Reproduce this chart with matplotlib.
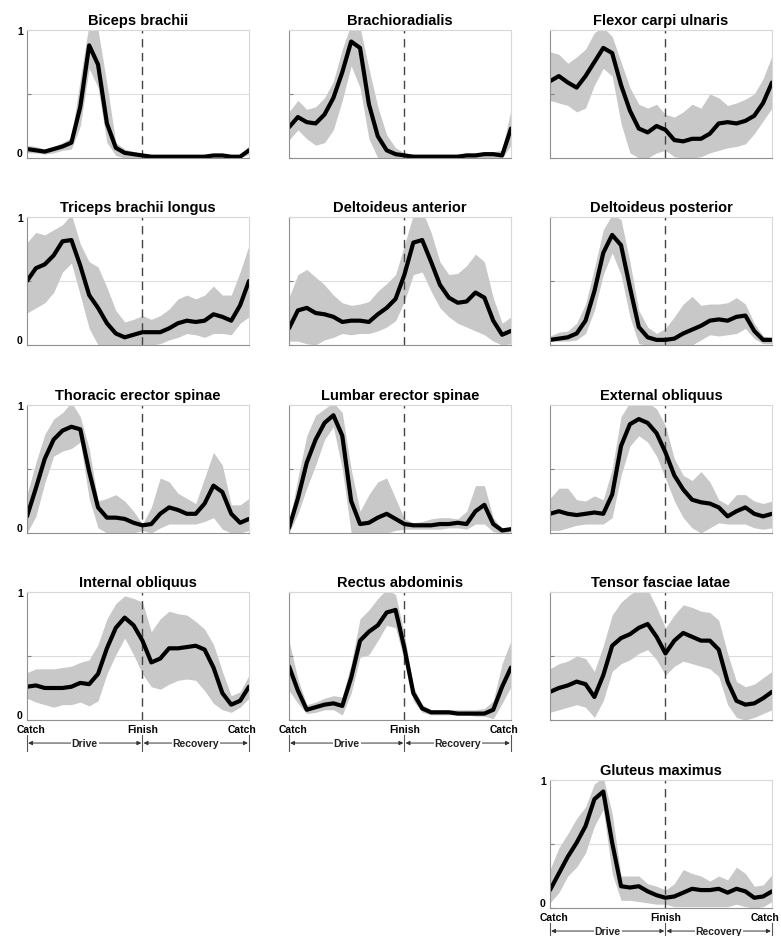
import numpy as np
import matplotlib.pyplot as plt

plt.rcParams['font.family'] = ['Liberation Sans', 'DejaVu Sans']

# % of stroke cycle, catch -> finish (52%) -> catch
pct = np.arange(0, 101, 4)
finish = 52

biceps_mean = [0.07, 0.06, 0.05, 0.07, 0.09, 0.12, 0.40, 0.88, 0.73, 0.27, 0.08, 0.04, 0.03, 0.02, 0.01, 0.01, 0.01, 0.01, 0.01, 0.01, 0.01, 0.02, 0.02, 0.01, 0.01, 0.06]
biceps_lo = [0.04, 0.04, 0.03, 0.04, 0.06, 0.07, 0.25, 0.70, 0.55, 0.12, 0.02, 0.0, 0.0, 0.0, 0.0, 0.0, 0.0, 0.0, 0.0, 0.0, 0.0, 0.0, 0.0, 0.0, 0.0, 0.03]
biceps_hi = [0.10, 0.09, 0.07, 0.09, 0.12, 0.16, 0.62, 1.05, 1.00, 0.58, 0.12, 0.07, 0.05, 0.03, 0.02, 0.02, 0.02, 0.02, 0.02, 0.02, 0.03, 0.03, 0.03, 0.02, 0.02, 0.10]

brachio_mean = [0.24, 0.32, 0.28, 0.27, 0.34, 0.47, 0.67, 0.91, 0.86, 0.42, 0.17, 0.06, 0.03, 0.02, 0.01, 0.01, 0.01, 0.01, 0.01, 0.01, 0.02, 0.02, 0.03, 0.03, 0.02, 0.23]
brachio_lo = [0.14, 0.22, 0.15, 0.10, 0.12, 0.22, 0.45, 0.72, 0.55, 0.15, 0.0, 0.0, 0.0, 0.0, 0.0, 0.0, 0.0, 0.0, 0.0, 0.0, 0.0, 0.0, 0.0, 0.0, 0.0, 0.10]
brachio_hi = [0.36, 0.45, 0.38, 0.40, 0.47, 0.60, 0.85, 1.05, 1.02, 0.70, 0.40, 0.18, 0.08, 0.04, 0.03, 0.03, 0.03, 0.03, 0.03, 0.03, 0.04, 0.04, 0.05, 0.05, 0.06, 0.38]

flexor_mean = [0.60, 0.64, 0.59, 0.55, 0.64, 0.75, 0.86, 0.82, 0.57, 0.37, 0.23, 0.20, 0.25, 0.22, 0.14, 0.13, 0.15, 0.15, 0.19, 0.27, 0.28, 0.27, 0.29, 0.33, 0.43, 0.59]
flexor_lo = [0.45, 0.43, 0.41, 0.36, 0.39, 0.57, 0.70, 0.64, 0.27, 0.04, 0.0, 0.0, 0.04, 0.06, 0.01, 0.0, 0.0, 0.01, 0.04, 0.06, 0.08, 0.09, 0.11, 0.19, 0.29, 0.39]
flexor_hi = [0.83, 0.81, 0.74, 0.79, 0.85, 0.98, 1.02, 0.95, 0.75, 0.55, 0.42, 0.39, 0.42, 0.34, 0.32, 0.36, 0.42, 0.39, 0.50, 0.47, 0.41, 0.43, 0.46, 0.50, 0.62, 0.80]

triceps_mean = [0.50, 0.60, 0.63, 0.70, 0.81, 0.82, 0.62, 0.39, 0.29, 0.17, 0.09, 0.06, 0.08, 0.10, 0.10, 0.10, 0.13, 0.17, 0.19, 0.18, 0.19, 0.24, 0.22, 0.19, 0.31, 0.50]
triceps_lo = [0.25, 0.29, 0.33, 0.41, 0.57, 0.64, 0.39, 0.13, 0.0, 0.0, 0.0, 0.0, 0.0, 0.0, 0.0, 0.01, 0.04, 0.06, 0.09, 0.08, 0.06, 0.09, 0.09, 0.08, 0.17, 0.22]
triceps_hi = [0.80, 0.88, 0.86, 0.90, 0.94, 1.02, 0.79, 0.65, 0.61, 0.45, 0.27, 0.18, 0.20, 0.23, 0.20, 0.23, 0.28, 0.36, 0.39, 0.36, 0.39, 0.46, 0.39, 0.39, 0.57, 0.78]

delt_ant_mean = [0.13, 0.27, 0.29, 0.25, 0.24, 0.22, 0.18, 0.19, 0.19, 0.18, 0.24, 0.29, 0.36, 0.55, 0.80, 0.82, 0.65, 0.47, 0.37, 0.33, 0.34, 0.41, 0.37, 0.19, 0.08, 0.11]
delt_ant_lo = [0.03, 0.03, 0.01, 0.0, 0.04, 0.06, 0.09, 0.08, 0.09, 0.09, 0.11, 0.14, 0.19, 0.34, 0.55, 0.57, 0.42, 0.29, 0.22, 0.17, 0.14, 0.11, 0.08, 0.03, 0.0, 0.01]
delt_ant_hi = [0.37, 0.55, 0.59, 0.53, 0.47, 0.39, 0.33, 0.31, 0.32, 0.34, 0.42, 0.48, 0.55, 0.78, 1.02, 1.05, 0.88, 0.65, 0.55, 0.56, 0.62, 0.71, 0.65, 0.37, 0.17, 0.22]

delt_post_mean = [0.04, 0.05, 0.06, 0.09, 0.19, 0.42, 0.72, 0.86, 0.78, 0.45, 0.14, 0.06, 0.04, 0.04, 0.05, 0.09, 0.12, 0.15, 0.19, 0.20, 0.19, 0.22, 0.23, 0.11, 0.04, 0.04]
delt_post_lo = [0.03, 0.03, 0.03, 0.04, 0.09, 0.27, 0.55, 0.72, 0.55, 0.22, 0.01, 0.0, 0.0, 0.0, 0.0, 0.0, 0.0, 0.04, 0.08, 0.07, 0.08, 0.09, 0.13, 0.05, 0.01, 0.01]
delt_post_hi = [0.07, 0.10, 0.11, 0.17, 0.32, 0.60, 0.90, 1.02, 0.98, 0.65, 0.27, 0.14, 0.09, 0.13, 0.22, 0.32, 0.38, 0.31, 0.32, 0.32, 0.33, 0.37, 0.32, 0.17, 0.07, 0.06]

thor_mean = [0.13, 0.35, 0.58, 0.73, 0.80, 0.83, 0.81, 0.48, 0.20, 0.12, 0.12, 0.11, 0.08, 0.06, 0.07, 0.15, 0.20, 0.18, 0.15, 0.15, 0.23, 0.37, 0.32, 0.15, 0.08, 0.11]
thor_lo = [0.0, 0.13, 0.39, 0.60, 0.64, 0.66, 0.71, 0.27, 0.04, 0.0, 0.0, 0.0, 0.0, 0.02, 0.0, 0.04, 0.07, 0.07, 0.07, 0.07, 0.09, 0.12, 0.03, 0.0, 0.0, 0.02]
thor_hi = [0.30, 0.55, 0.77, 0.89, 0.94, 1.02, 0.91, 0.66, 0.25, 0.27, 0.30, 0.25, 0.17, 0.07, 0.20, 0.43, 0.40, 0.31, 0.27, 0.23, 0.43, 0.63, 0.53, 0.22, 0.22, 0.27]

lumb_mean = [0.04, 0.27, 0.55, 0.73, 0.86, 0.92, 0.76, 0.25, 0.07, 0.08, 0.12, 0.15, 0.11, 0.07, 0.06, 0.06, 0.06, 0.07, 0.07, 0.08, 0.07, 0.17, 0.22, 0.07, 0.02, 0.03]
lumb_lo = [0.0, 0.15, 0.35, 0.53, 0.73, 0.83, 0.50, 0.0, 0.0, 0.0, 0.0, 0.0, 0.02, 0.03, 0.03, 0.03, 0.03, 0.03, 0.04, 0.04, 0.03, 0.07, 0.07, 0.01, 0.0, 0.01]
lumb_hi = [0.07, 0.43, 0.76, 0.92, 0.97, 1.02, 0.94, 0.50, 0.17, 0.30, 0.40, 0.43, 0.27, 0.11, 0.08, 0.09, 0.11, 0.12, 0.12, 0.11, 0.17, 0.37, 0.37, 0.12, 0.03, 0.04]

ext_obl_mean = [0.15, 0.17, 0.15, 0.14, 0.15, 0.16, 0.15, 0.30, 0.68, 0.85, 0.89, 0.86, 0.78, 0.63, 0.45, 0.34, 0.26, 0.24, 0.23, 0.20, 0.13, 0.17, 0.20, 0.15, 0.13, 0.15]
ext_obl_lo = [0.02, 0.02, 0.04, 0.06, 0.07, 0.07, 0.07, 0.12, 0.45, 0.68, 0.76, 0.71, 0.60, 0.43, 0.25, 0.12, 0.04, 0.0, 0.04, 0.08, 0.07, 0.07, 0.07, 0.04, 0.03, 0.04]
ext_obl_hi = [0.27, 0.35, 0.35, 0.26, 0.25, 0.29, 0.26, 0.50, 0.91, 1.02, 1.02, 1.02, 0.97, 0.84, 0.58, 0.45, 0.41, 0.48, 0.40, 0.26, 0.22, 0.30, 0.30, 0.25, 0.23, 0.25]

int_obl_mean = [0.26, 0.27, 0.25, 0.25, 0.25, 0.26, 0.29, 0.28, 0.36, 0.56, 0.72, 0.80, 0.74, 0.62, 0.45, 0.48, 0.56, 0.56, 0.57, 0.58, 0.55, 0.41, 0.21, 0.12, 0.15, 0.26]
int_obl_lo = [0.17, 0.14, 0.12, 0.10, 0.12, 0.12, 0.14, 0.11, 0.15, 0.36, 0.51, 0.64, 0.51, 0.36, 0.26, 0.24, 0.28, 0.31, 0.32, 0.31, 0.23, 0.13, 0.08, 0.06, 0.10, 0.17]
int_obl_hi = [0.37, 0.40, 0.40, 0.40, 0.41, 0.42, 0.45, 0.47, 0.59, 0.79, 0.91, 0.97, 0.95, 0.92, 0.69, 0.79, 0.85, 0.83, 0.82, 0.77, 0.71, 0.59, 0.38, 0.19, 0.22, 0.35]

rect_mean = [0.42, 0.23, 0.08, 0.10, 0.12, 0.13, 0.11, 0.33, 0.62, 0.69, 0.74, 0.84, 0.86, 0.56, 0.21, 0.09, 0.06, 0.06, 0.06, 0.05, 0.05, 0.05, 0.05, 0.08, 0.26, 0.41]
rect_lo = [0.23, 0.13, 0.05, 0.06, 0.08, 0.08, 0.04, 0.21, 0.49, 0.51, 0.62, 0.74, 0.72, 0.46, 0.15, 0.06, 0.04, 0.04, 0.04, 0.04, 0.04, 0.03, 0.03, 0.01, 0.13, 0.26]
rect_hi = [0.62, 0.32, 0.12, 0.14, 0.17, 0.19, 0.18, 0.44, 0.79, 0.86, 0.95, 1.02, 0.98, 0.67, 0.26, 0.12, 0.08, 0.08, 0.08, 0.08, 0.08, 0.08, 0.09, 0.15, 0.44, 0.62]

tfl_mean = [0.22, 0.25, 0.27, 0.30, 0.28, 0.18, 0.35, 0.58, 0.64, 0.67, 0.72, 0.75, 0.65, 0.52, 0.62, 0.68, 0.65, 0.62, 0.62, 0.55, 0.30, 0.15, 0.12, 0.13, 0.17, 0.22]
tfl_lo = [0.06, 0.08, 0.10, 0.12, 0.10, 0.02, 0.15, 0.38, 0.44, 0.47, 0.52, 0.55, 0.47, 0.35, 0.42, 0.46, 0.44, 0.42, 0.40, 0.34, 0.12, 0.02, 0.0, 0.02, 0.05, 0.08]
tfl_hi = [0.40, 0.44, 0.46, 0.50, 0.48, 0.38, 0.58, 0.82, 0.92, 0.98, 1.02, 1.02, 0.88, 0.72, 0.82, 0.90, 0.88, 0.85, 0.84, 0.78, 0.52, 0.30, 0.26, 0.28, 0.33, 0.38]

glut_mean = [0.14, 0.27, 0.40, 0.51, 0.64, 0.85, 0.91, 0.51, 0.17, 0.16, 0.17, 0.13, 0.10, 0.08, 0.09, 0.12, 0.15, 0.14, 0.14, 0.15, 0.12, 0.15, 0.13, 0.08, 0.09, 0.13]
glut_lo = [0.04, 0.12, 0.25, 0.32, 0.43, 0.64, 0.77, 0.27, 0.06, 0.06, 0.05, 0.04, 0.03, 0.03, 0.01, 0.01, 0.01, 0.01, 0.01, 0.01, 0.01, 0.03, 0.01, 0.0, 0.01, 0.05]
glut_hi = [0.30, 0.47, 0.58, 0.70, 0.79, 0.97, 1.02, 0.74, 0.25, 0.25, 0.25, 0.19, 0.17, 0.14, 0.19, 0.30, 0.27, 0.25, 0.21, 0.25, 0.22, 0.32, 0.27, 0.17, 0.18, 0.26]

phase_labels = ['Catch', 'Finish', 'Catch']

# title, mean, lower, upper, row, col
panels = [
    ('Biceps brachii', biceps_mean, biceps_lo, biceps_hi, 0, 0),
    ('Brachioradialis', brachio_mean, brachio_lo, brachio_hi, 0, 1),
    ('Flexor carpi ulnaris', flexor_mean, flexor_lo, flexor_hi, 0, 2),
    ('Triceps brachii longus', triceps_mean, triceps_lo, triceps_hi, 1, 0),
    ('Deltoideus anterior', delt_ant_mean, delt_ant_lo, delt_ant_hi, 1, 1),
    ('Deltoideus posterior', delt_post_mean, delt_post_lo, delt_post_hi, 1, 2),
    ('Thoracic erector spinae', thor_mean, thor_lo, thor_hi, 2, 0),
    ('Lumbar erector spinae', lumb_mean, lumb_lo, lumb_hi, 2, 1),
    ('External obliquus', ext_obl_mean, ext_obl_lo, ext_obl_hi, 2, 2),
    ('Internal obliquus', int_obl_mean, int_obl_lo, int_obl_hi, 3, 0),
    ('Rectus abdominis', rect_mean, rect_lo, rect_hi, 3, 1),
    ('Tensor fasciae latae', tfl_mean, tfl_lo, tfl_hi, 3, 2),
    ('Gluteus maximus', glut_mean, glut_lo, glut_hi, 4, 2),
]
with_xlabels = ['Internal obliquus', 'Rectus abdominis', 'Gluteus maximus']

W, H = 781, 937
col_x = [27, 289, 550]
row_y = [31, 218, 406, 593, 781]
aw, ah = 222, 128

fig = plt.figure(figsize=(W / 100, H / 100), dpi=100)

for title, mean, lo, hi, r, c in panels:
    ax = fig.add_axes([col_x[c] / W, 1 - (row_y[r] + ah) / H, aw / W, ah / H])
    ax.fill_between(pct, lo, hi, color='#c8c8c8', lw=0)
    ax.axhline(0.5, color='#dddddd', lw=0.8, zorder=0)
    ax.axvline(finish, color='#444444', lw=1, ls=(0, (6, 4)))
    ax.plot(pct, mean, color='black', lw=3, solid_joinstyle='round', solid_capstyle='round')
    ax.set_xlim(0, 100)
    ax.set_ylim(0, 1)
    ax.set_title(title, fontsize=10.5, fontweight='bold', pad=4)

    for s in ['top', 'right']:
        ax.spines[s].set_color('#d8d8d8')
    for s in ['left', 'bottom']:
        ax.spines[s].set_color('#909090')
    for s in ax.spines.values():
        s.set_linewidth(0.8)

    ax.set_yticks([0, 0.5, 1])
    if c == 0 or title == 'Gluteus maximus':
        ax.set_yticklabels(['0', '', '1'], fontsize=7.5, fontweight='bold')
        ax.get_yticklabels()[0].set_va('bottom')
    else:
        ax.set_yticklabels([])
    ax.tick_params(axis='y', direction='in', length=3, color='#808080', pad=3)
    ax.set_xticks([])

    if title in with_xlabels:
        tr = ax.get_xaxis_transform()
        for xv, lab in zip([2, finish, 97], phase_labels):
            ax.text(xv, -0.03, lab, transform=tr, ha='center', va='top',
                    fontsize=7.5, fontweight='bold')
        ya = -0.18
        for x0, x1, lab in [(0, finish, 'Drive'), (finish, 100, 'Recovery')]:
            ax.annotate('', xy=(x0 + 0.5, ya), xytext=(x1 - 0.5, ya), xycoords=tr,
                        arrowprops=dict(arrowstyle='<|-|>', color='#333333', lw=0.7,
                                        mutation_scale=6, shrinkA=0, shrinkB=0))
            ax.text((x0 + x1) / 2, ya, lab, transform=tr, ha='center', va='center',
                    fontsize=7.5, fontweight='bold', color='#222222',
                    bbox=dict(facecolor='white', edgecolor='none', pad=0.5))
        for xv in [0, finish, 100]:
            ax.plot([xv, xv], [-0.12, -0.24], transform=tr, color='#555555', lw=0.8, clip_on=False)

fig.savefig('out.png', dpi=100)
